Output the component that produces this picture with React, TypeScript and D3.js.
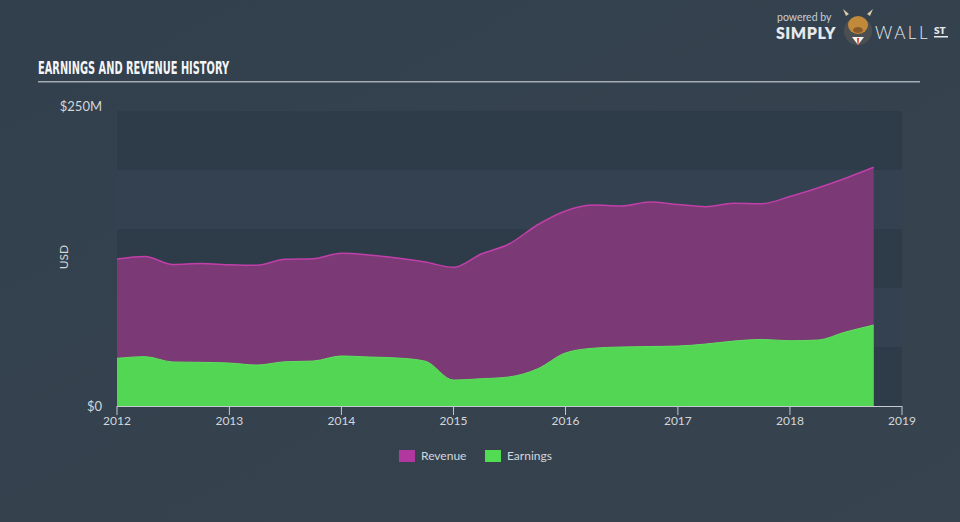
import React from "react";
import * as d3 from "d3";

const dates = [
  "2012-01-01","2012-04-01","2012-07-01","2012-10-01",
  "2013-01-01","2013-04-01","2013-07-01","2013-10-01",
  "2014-01-01","2014-04-01","2014-07-01","2014-10-01",
  "2015-01-01","2015-04-01","2015-07-01","2015-10-01",
  "2016-01-01","2016-04-01","2016-07-01","2016-10-01",
  "2017-01-01","2017-04-01","2017-07-01","2017-10-01",
  "2018-01-01","2018-04-01","2018-07-01","2018-10-01",
];
const revenue = [
  124.6, 126.7, 120.0, 120.8,
  119.7, 119.2, 124.3, 124.8,
  129.4, 128.0, 125.4, 122.0,
  117.5, 128.8, 137.3, 153.4,
  165.3, 170.3, 169.5, 172.9,
  170.8, 168.9, 171.8, 171.5,
  177.5, 184.7, 193.0, 202.3,
];
const earnings = [
  40.4, 41.8, 37.3, 37.0,
  36.4, 34.7, 37.5, 38.1,
  42.4, 41.5, 40.7, 38.0,
  22.0, 23.1, 24.6, 31.4,
  45.0, 49.0, 50.0, 50.4,
  50.8, 52.5, 55.0, 56.4,
  55.3, 55.9, 62.7, 68.6,
];
const xTicks = ["2012", "2013", "2014", "2015", "2016", "2017", "2018", "2019"];
const yTickLabels = [
  { v: 0, label: "$0" },
  { v: 250, label: "$250M" },
];
const bandEdges = [0, 50, 100, 150, 200, 250];
const legendItems = [
  { name: "Revenue", color: "#b0389f" },
  { name: "Earnings", color: "#52dc52" },
];

const W = 960;
const H = 522;

export default function App() {
  const parse = d3.timeParse("%Y-%m-%d");
  const pts = dates.map((d, i) => ({ t: parse(d) as Date, r: revenue[i], e: earnings[i] }));
  const x = d3
    .scaleTime()
    .domain([new Date(2012, 0, 1), new Date(2019, 0, 1)])
    .range([117, 902]);
  const y = d3.scaleLinear().domain([0, 250]).range([406, 111]);

  const curve = d3.curveMonotoneX;
  const revArea = d3
    .area<any>()
    .x((d) => x(d.t))
    .y0(y(0))
    .y1((d) => y(d.r))
    .curve(curve)(pts) as string;
  const revLine = d3
    .line<any>()
    .x((d) => x(d.t))
    .y((d) => y(d.r))
    .curve(curve)(pts) as string;
  const earnArea = d3
    .area<any>()
    .x((d) => x(d.t))
    .y0(y(0))
    .y1((d) => y(d.e))
    .curve(curve)(pts) as string;
  const earnLine = d3
    .line<any>()
    .x((d) => x(d.t))
    .y((d) => y(d.e))
    .curve(curve)(pts) as string;

  const font = "Lato, 'Open Sans', sans-serif";
  const x0 = x.range()[0];
  const x1 = x.range()[1];

  return (
    <svg
      width={W}
      height={H}
      viewBox={`0 0 ${W} ${H}`}
      style={{ position: "absolute", left: 0, top: 0, display: "block" }}
    >
      <defs>
        <linearGradient id="bg" x1="0" y1="0" x2="1" y2="1">
          <stop offset="0" stopColor="#323f4d" />
          <stop offset="1" stopColor="#37444f" />
        </linearGradient>
      </defs>
      <rect x={0} y={0} width={W} height={H} fill="url(#bg)" />

      {/* logo */}
      <g fontFamily={font}>
        <text x={777} y={21} fontSize={10.5} fill="#c9ced4">powered by</text>
        <text x={776} y={39} fontSize={16} fontWeight={800} fill="#e6e9ec" letterSpacing={0.5}>SIMPLY</text>
        <circle cx={858} cy={31} r={14} fill="#4c4f52" />
        <ellipse cx={858} cy={25} rx={10} ry={9} fill="#c08a3a" />
        <path d="M846 16 L843 9 L849 14 Z M870 16 L873 9 L867 14 Z" fill="#d8c9a8" />
        <ellipse cx={858} cy={30} rx={5} ry={3} fill="#8a5a2a" />
        <path d="M852 37 L858 45 L864 37 Z" fill="#f2f2f2" />
        <path d="M857 38 L859 38 L858.5 45 L857.5 45 Z" fill="#d04020" />
        <text x={875} y={39} fontSize={17} fontWeight={300} fill="#e6e9ec" letterSpacing={2.5}>WALL</text>
        <text x={934} y={34} fontSize={10} fontWeight={800} fill="#e6e9ec">ST</text>
        <rect x={934} y={36} width={14} height={1.5} fill="#e6e9ec" />
      </g>

      {/* title */}
      <text
        x={38}
        y={74}
        fontFamily="'DejaVu Sans Condensed', 'DejaVu Sans', sans-serif"
        fontWeight="bold"
        fontSize={17}
        fill="#f4f5f6"
        textLength={191}
        lengthAdjust="spacingAndGlyphs"
      >
        EARNINGS AND REVENUE HISTORY
      </text>
      <rect x={38} y={81} width={882} height={1.5} fill="#a3abb3" />

      {/* bands */}
      {bandEdges.slice(0, -1).map((v, i) => (
        <rect
          key={i}
          x={x0}
          y={y(bandEdges[i + 1])}
          width={x1 - x0}
          height={y(v) - y(bandEdges[i + 1])}
          fill={i % 2 === 0 ? "#2e3b49" : "#334150"}
        />
      ))}

      {/* areas */}
      <path d={revArea} fill="#7b3a75" />
      <path d={revLine} fill="none" stroke="#c13fa8" strokeWidth={1.5} />
      <path d={earnArea} fill="#52d653" />
      <path d={earnLine} fill="none" stroke="#5fe05f" strokeWidth={1} />

      {/* x axis */}
      <line x1={x0} x2={x1} y1={406.5} y2={406.5} stroke="#c4cad0" strokeWidth={1} />
      {xTicks.map((t) => {
        const px = x(new Date(+t, 0, 1));
        return (
          <g key={t}>
            <line x1={px} x2={px} y1={406} y2={415} stroke="#c4cad0" strokeWidth={1} />
            <text
              x={px}
              y={425}
              textAnchor="middle"
              fontFamily={font}
              fontSize={12}
              fill="#d3d7db"
            >
              {t}
            </text>
          </g>
        );
      })}

      {/* y labels */}
      {yTickLabels.map((t) => (
        <text
          key={t.label}
          x={102}
          y={y(t.v) + (t.v === 0 ? 2 : -3)}
          textAnchor="end"
          dominantBaseline="middle"
          fontFamily={font}
          fontSize={13}
          fill="#d3d7db"
        >
          {t.label}
        </text>
      ))}
      <text
        transform={`translate(65,257) rotate(-90)`}
        textAnchor="middle"
        dominantBaseline="middle"
        fontFamily={font}
        fontSize={12}
        fill="#d3d7db"
      >
        USD
      </text>

      {/* legend */}
      {legendItems.map((it, i) => {
        const lx = 399 + i * 86;
        return (
          <g key={it.name}>
            <rect x={lx} y={450} width={16} height={12} fill={it.color} />
            <text
              x={lx + 22}
              y={456.5}
              dominantBaseline="middle"
              fontFamily={font}
              fontSize={12}
              fill="#d3d7db"
            >
              {it.name}
            </text>
          </g>
        );
      })}
    </svg>
  );
}
